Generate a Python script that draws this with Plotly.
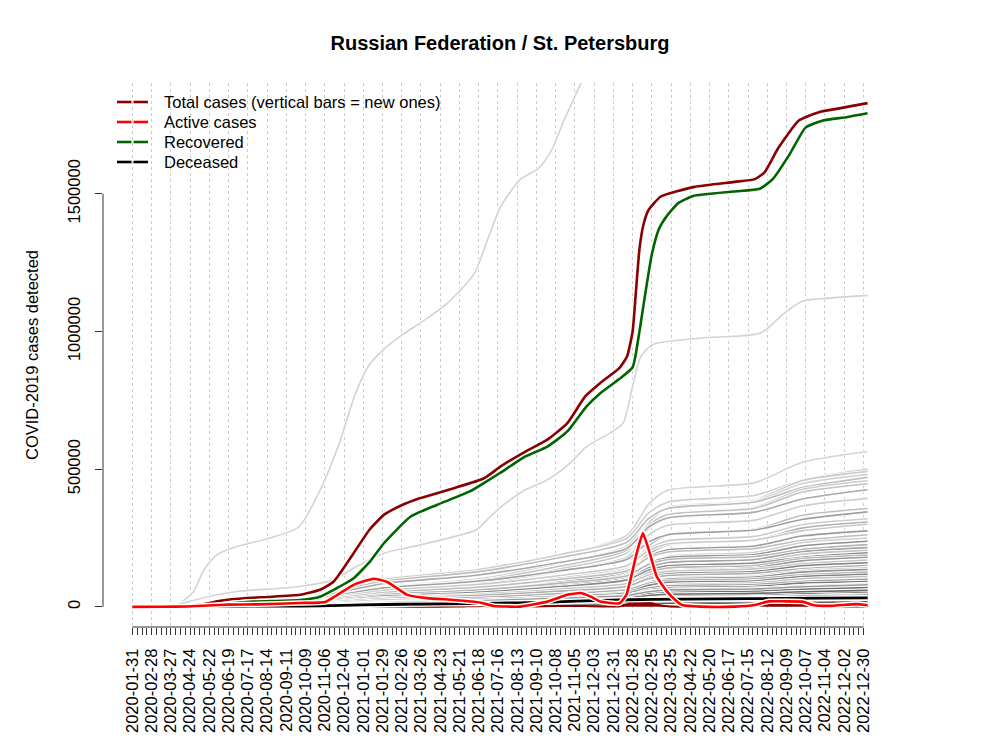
import plotly.graph_objects as go
import pandas as pd

# ---------------- data ----------------
total_dates = ["2020-01-31","2020-03-15","2020-04-15","2020-05-10","2020-06-07","2020-07-15","2020-08-15",
               "2020-10-01","2020-10-30","2020-11-19","2020-12-18","2021-01-10","2021-01-31","2021-02-25",
               "2021-03-25","2021-05-13","2021-06-26","2021-07-20","2021-08-25","2021-09-26","2021-10-25",
               "2021-11-20","2021-12-12","2022-01-09","2022-01-20","2022-01-28","2022-02-02","2022-02-07",
               "2022-02-13","2022-02-20","2022-03-10","2022-04-28","2022-06-25","2022-07-25","2022-08-08",
               "2022-08-28","2022-09-27","2022-10-27","2022-11-25","2022-12-14","2023-01-05"]
total_vals = [0,100,2000,8000,21800,32000,36000,43600,62000,92000,195000,280000,334000,368000,395000,
              431000,467000,510000,564000,607000,667000,764000,813000,868000,910000,1000000,1150000,
              1300000,1390000,1440000,1490000,1525000,1543000,1553000,1578000,1666000,1766000,1797000,
              1810000,1819000,1829000]

rec_dates = ["2020-01-31","2020-04-15","2020-05-20","2020-06-16","2020-07-25","2020-10-01","2020-10-30",
             "2020-11-19","2020-12-18","2021-01-11","2021-01-31","2021-03-11","2021-04-18","2021-06-05",
             "2021-06-29","2021-07-19","2021-08-25","2021-09-26","2021-10-25","2021-11-22","2021-12-12",
             "2022-01-09","2022-01-28","2022-02-06","2022-02-15","2022-02-25","2022-03-07","2022-03-19",
             "2022-04-04","2022-04-26","2022-06-24","2022-08-01","2022-08-20","2022-09-13","2022-10-07",
             "2022-11-01","2022-12-05","2023-01-05"]
rec_vals = [0,200,2000,11000,19000,25000,37000,62000,104000,165000,231000,328000,370000,419000,455000,
            486000,546000,582000,637000,728000,776000,828000,870000,985000,1130000,1280000,1370000,
            1420000,1465000,1492000,1508000,1518000,1553000,1641000,1741000,1766000,1778000,1792000]

act_dates = ["2020-01-31","2020-03-15","2020-04-20","2020-05-20","2020-06-20","2020-08-01","2020-10-01",
             "2020-11-07","2020-12-18","2021-01-16","2021-02-05","2021-03-06","2021-04-04","2021-05-13",
             "2021-06-20","2021-07-10","2021-08-18","2021-09-26","2021-10-25","2021-11-13","2021-11-28",
             "2021-12-12","2022-01-09","2022-01-19","2022-02-03","2022-02-12","2022-02-22","2022-03-04",
             "2022-03-19","2022-03-31","2022-04-10","2022-05-07","2022-06-26","2022-07-25","2022-08-14",
             "2022-09-08","2022-10-02","2022-10-17","2022-11-11","2022-12-20","2023-01-05"]
act_vals = [0,100,1500,5000,8000,9000,14000,18000,80000,102000,90000,43600,31600,25000,15600,3000,
            1000,19000,44000,50000,37000,19000,13000,44000,195000,268000,195000,110000,56000,25000,
            7000,1000,1000,7000,20000,20000,19000,7000,3600,10000,6000]

dec_dates = ["2020-01-31","2020-04-15","2020-06-01","2020-08-01","2020-10-01","2020-12-01","2021-01-01",
             "2021-03-01","2021-07-01","2021-10-01","2021-12-15","2022-03-01","2022-06-01","2022-09-01",
             "2023-01-05"]
dec_vals = [0,100,1500,2500,3000,5000,7000,9500,12500,17500,23500,27500,29000,30500,32500]

new_dates = ["2020-01-31","2020-03-31","2020-05-15","2020-06-15","2020-08-15","2020-10-01","2020-11-01",
             "2020-12-01","2020-12-25","2021-01-20","2021-02-20","2021-04-01","2021-05-15","2021-06-25",
             "2021-07-15","2021-08-15","2021-09-20","2021-10-25","2021-11-20","2021-12-20","2022-01-10",
             "2022-01-25","2022-02-07","2022-02-20","2022-03-05","2022-03-20","2022-04-15","2022-06-15",
             "2022-07-15","2022-08-10","2022-08-28","2022-09-12","2022-09-28","2022-10-12","2022-11-01",
             "2022-12-01","2022-12-25","2023-01-05"]
new_vals = [0,100,700,400,250,400,1200,3700,3800,2500,1000,800,900,3500,2000,1300,2200,3500,3000,1200,
            2500,13000,21000,17000,8000,2500,700,300,1500,10000,16000,17000,12000,4000,800,600,1200,900]

msk_dates = ["2020-03-05","2020-03-20","2020-04-10","2020-04-29","2020-05-14","2020-06-02","2020-07-01",
             "2020-08-18","2020-09-29","2020-10-30","2020-11-28","2020-12-20","2021-01-10","2021-01-31",
             "2021-02-24","2021-03-30","2021-05-03","2021-06-11","2021-06-30","2021-07-20","2021-08-18",
             "2021-09-12","2021-10-01","2021-10-20","2021-11-05","2021-11-17","2022-01-15","2022-03-01",
             "2022-08-01","2023-01-05"]
msk_vals = [0,100,15000,56000,134000,189000,219000,250000,290000,423000,600000,770000,880000,935000,
            983000,1039000,1102000,1208000,1327000,1453000,1553000,1590000,1653000,1766000,1853000,
            1916000,2100000,2650000,2800000,3300000]

mo_dates = ["2020-03-20","2020-04-05","2020-05-01","2020-06-02","2020-07-01","2020-10-01","2020-11-19",
            "2020-12-18","2021-01-31","2021-03-25","2021-05-13","2021-06-15","2021-06-30","2021-07-20",
            "2021-08-25","2021-09-26","2021-10-29","2021-11-22","2021-12-26","2022-01-14","2022-01-28",
            "2022-02-09","2022-02-26","2022-05-07","2022-08-02","2022-09-06","2022-10-02","2022-11-15",
            "2023-01-05"]
mo_vals = [0,8000,25000,44000,56000,74000,98000,141000,195000,225000,255000,280000,316000,362000,
           425000,461000,522000,582000,631000,667000,800000,909000,952000,976000,994000,1067000,
           1110000,1122000,1131000]

# other regions (values in thousands at the key dates)
reg_dates = ["2020-03-15","2020-06-01","2020-10-01","2020-12-01","2021-02-01","2021-06-15","2021-10-15",
             "2022-01-20","2022-02-20","2022-03-20","2022-07-25","2022-10-01","2023-01-05"]
reg_vals_thousands = [
    [0, 6, 23, 51, 85, 118, 186, 260, 372, 423, 451, 524, 564],
    [0, 10, 30, 65, 100, 135, 190, 250, 340, 380, 405, 460, 500],
    [0, 2, 15, 34, 59, 84, 138, 197, 305, 359, 389, 458, 492],
    [0, 5, 19, 43, 72, 101, 159, 221, 317, 361, 385, 447, 481],
    [0, 9, 28, 61, 94, 127, 179, 235, 320, 357, 381, 432, 470],
    [0, 2, 14, 32, 55, 78, 128, 183, 284, 334, 362, 426, 458],
    [0, 4, 18, 40, 67, 94, 148, 206, 295, 335, 358, 416, 447],
    [0, 8, 26, 55, 85, 115, 162, 213, 289, 323, 344, 391, 425],
    [0, 4, 16, 35, 59, 83, 130, 181, 260, 296, 315, 366, 394],
    [0, 2, 11, 25, 43, 61, 100, 143, 221, 261, 282, 332, 357],
    [0, 7, 21, 45, 69, 93, 131, 173, 235, 262, 279, 317, 345],
    [0, 3, 13, 29, 48, 67, 106, 147, 211, 240, 256, 298, 320],
    [0, 2, 9, 22, 37, 52, 86, 123, 191, 225, 243, 286, 308],
    [0, 6, 18, 39, 60, 81, 114, 150, 204, 228, 243, 276, 300],
    [0, 3, 11, 25, 41, 58, 91, 127, 182, 207, 221, 257, 276],
    [0, 5, 16, 34, 52, 71, 100, 131, 178, 199, 212, 241, 262],
    [0, 1, 8, 18, 30, 43, 70, 100, 155, 183, 198, 233, 250],
    [0, 2, 10, 21, 36, 50, 79, 109, 157, 179, 190, 221, 238],
    [0, 5, 14, 29, 45, 61, 86, 113, 154, 172, 183, 208, 226],
    [0, 2, 9, 19, 32, 45, 71, 99, 142, 161, 172, 200, 215],
    [0, 1, 6, 14, 25, 35, 57, 82, 127, 150, 162, 191, 205],
    [0, 4, 12, 25, 39, 53, 74, 98, 133, 149, 159, 180, 196],
    [0, 2, 8, 17, 28, 39, 62, 86, 124, 141, 150, 175, 188],
    [0, 1, 5, 13, 22, 31, 50, 72, 112, 131, 142, 167, 180],
    [0, 3, 10, 22, 34, 46, 65, 85, 116, 129, 138, 156, 170],
    [0, 2, 6, 14, 24, 34, 53, 74, 106, 120, 128, 149, 160],
    [0, 3, 9, 20, 30, 41, 57, 75, 102, 114, 122, 138, 150],
    [0, 1, 4, 10, 17, 24, 40, 57, 88, 104, 112, 132, 142],
    [0, 1, 5, 12, 20, 28, 45, 62, 89, 101, 108, 126, 135],
    [0, 3, 8, 16, 25, 34, 48, 63, 86, 96, 102, 116, 126],
    [0, 1, 5, 11, 18, 25, 39, 54, 78, 89, 94, 110, 118],
    [0, 1, 3, 8, 13, 19, 31, 44, 68, 80, 87, 102, 110],
    [0, 2, 6, 13, 20, 27, 38, 50, 68, 76, 81, 92, 100],
    [0, 1, 4, 8, 14, 19, 30, 42, 61, 69, 74, 86, 92],
    [0, 2, 5, 11, 17, 23, 32, 42, 57, 64, 68, 77, 84],
    [0, 0, 2, 5, 9, 13, 21, 30, 47, 55, 59, 70, 75],
    [0, 1, 3, 6, 10, 14, 22, 30, 44, 50, 53, 61, 66],
    [0, 1, 3, 8, 12, 16, 22, 29, 39, 44, 47, 53, 58],
    [0, 1, 2, 5, 8, 11, 17, 23, 33, 38, 40, 47, 50],
    [0, 0, 1, 3, 5, 7, 12, 17, 26, 31, 33, 39, 42],
    [0, 1, 2, 4, 7, 9, 13, 17, 23, 26, 28, 31, 34],
    [0, 0, 1, 2, 4, 5, 9, 12, 17, 20, 21, 24, 26],
    [0, 1, 4, 9, 15, 20, 28, 36, 48, 54, 57, 64, 70],
    [0, 1, 3, 7, 12, 16, 22, 28, 37, 41, 44, 49, 54],
    [0, 0, 2, 5, 9, 12, 17, 22, 30, 34, 36, 41, 45],
    [0, 1, 3, 6, 10, 13, 18, 23, 30, 33, 35, 39, 42],
    [0, 0, 2, 4, 7, 10, 14, 18, 25, 28, 30, 34, 37],
    [0, 0, 1, 3, 6, 8, 11, 15, 21, 24, 25, 28, 31],
    [0, 1, 3, 8, 14, 18, 24, 31, 41, 46, 49, 55, 60],
    [0, 1, 4, 10, 17, 23, 33, 43, 57, 63, 67, 75, 82],
    [0, 1, 4, 9, 16, 22, 31, 41, 55, 61, 65, 73, 80],
    [0, 0, 1, 2, 3, 4, 6, 8, 11, 13, 14, 16, 18],
]
reg_colors = ["#d4d4d4","#cfcfcf","#c8c8c8","#d4d4d4","#bdbdbd","#cccccc","#c2c2c2","#a9a9a9","#cfcfcf",
              "#bebebe","#a0a0a0","#cdcdcd","#b0b0b0","#c9c9c9","#9a9a9a","#bcbcbc","#d0d0d0","#8f8f8f",
              "#b5b5b5","#a4a4a4","#c6c6c6",
              "#8a8a8a","#b8b8b8","#999999","#c4c4c4","#7f7f7f","#adadad","#cfcfcf","#939393","#b2b2b2",
              "#858585","#c0c0c0","#a0a0a0","#7a7a7a","#bababa","#8c8c8c","#a8a8a8","#c8c8c8","#808080",
              "#9e9e9e","#b6b6b6","#8a8a8a",
              "#6e6e6e","#5f5f5f","#777777","#666666","#707070","#5a5a5a","#696969","#757575","#9a9a9a",
              "#606060"]

tick_labels = ["2020-01-31","2020-02-28","2020-03-27","2020-04-24","2020-05-22","2020-06-19","2020-07-17",
               "2020-08-14","2020-09-11","2020-10-09","2020-11-06","2020-12-04","2021-01-01","2021-01-29",
               "2021-02-26","2021-03-26","2021-04-23","2021-05-21","2021-06-18","2021-07-16","2021-08-13",
               "2021-09-10","2021-10-08","2021-11-05","2021-12-03","2021-12-31","2022-01-28","2022-02-25",
               "2022-03-25","2022-04-22","2022-05-20","2022-06-17","2022-07-15","2022-08-12","2022-09-09",
               "2022-10-07","2022-11-04","2022-12-02","2022-12-30"]
y_ticks = [0, 500000, 1000000, 1500000]

title_text = "Russian Federation / St. Petersburg"
ytitle_text = "COVID-2019 cases detected"
legend_labels = ["Total cases (vertical bars = new ones)", "Active cases", "Recovered", "Deceased"]
legend_colors = ["#8B0000", "#FF0000", "#006400", "#000000"]

# ---------------- figure ----------------
FONT = "Liberation Sans, Arial, Helvetica, sans-serif"
fig = go.Figure()

def halo_line(x, y, color, w, hw, smooth=0.7):
    shape = dict(shape="spline", smoothing=smooth) if smooth else dict(shape="linear")
    fig.add_trace(go.Scatter(x=x, y=y, mode="lines", line=dict(color="white", width=hw, **shape),
                             hoverinfo="skip", showlegend=False))
    fig.add_trace(go.Scatter(x=x, y=y, mode="lines", line=dict(color=color, width=w, **shape),
                             showlegend=False))

# background regions: each grey line with a white halo
halo_line(msk_dates, msk_vals, "#d3d3d3", 1.6, 3.5)
halo_line(mo_dates, mo_vals, "#d3d3d3", 1.6, 3.5)
for vals, col in zip(reg_vals_thousands, reg_colors):
    halo_line(reg_dates, [v * 1000 for v in vals], col, 1.6, 3.2)

# new cases (vertical bars at the bottom)
fig.add_trace(go.Scatter(x=new_dates, y=new_vals, mode="lines", fill="tozeroy",
                         line=dict(color="#8B0000", width=2, shape="spline", smoothing=0.6),
                         fillcolor="#8B0000", showlegend=False))

# main series
halo_line(dec_dates, dec_vals, "#000000", 2.8, 5.5)
halo_line(total_dates, total_vals, "#8B0000", 2.6, 5.0, 0.5)
halo_line(rec_dates, rec_vals, "#006400", 2.6, 5.0, 0.5)
halo_line(act_dates, act_vals, "#FF0000", 2.6, 5.5, 0.4)

# axes ranges (R style 4% padding)
d0 = pd.Timestamp(total_dates[0])
d1 = pd.Timestamp(total_dates[-1])
pad = (d1 - d0) * 0.04
ymax = max(total_vals)
week_ticks = [d.strftime("%Y-%m-%d") for d in pd.date_range(tick_labels[0], tick_labels[-1], freq="7D")]

fig.update_layout(
    width=1000, height=750,
    margin=dict(l=103, r=103, t=83, b=123),
    plot_bgcolor="white", paper_bgcolor="white",
    showlegend=False,
    font=dict(family=FONT, size=16.5, color="black"),
    title=dict(text="<b>" + title_text + "</b>", x=0.5, xanchor="center",
               y=1 - 43 / 750, yanchor="middle", font=dict(size=20, family=FONT, color="black")),
    xaxis=dict(type="date", range=[d0 - pad, d1 + pad],
               tickmode="array", tickvals=tick_labels, ticktext=tick_labels,
               tickangle=-90, ticks="outside", ticklen=7, tickwidth=1, tickcolor="#333333",
               showgrid=True, gridcolor="#cccccc", griddash="dot", gridwidth=1,
               showline=False, zeroline=False, ticklabelstandoff=7,
               minor=dict(tickmode="array", tickvals=week_ticks, ticks="outside", ticklen=7,
                          tickwidth=1, tickcolor="#333333", showgrid=False)),
    yaxis=dict(range=[-0.04 * ymax, 1.04 * ymax], tickmode="array", tickvals=y_ticks,
               ticktext=[str(v) for v in y_ticks], tickangle=-90, ticks="outside", ticklen=7,
               tickwidth=1, tickcolor="#333333", showgrid=False, zeroline=False, showline=False,
               ticklabelstandoff=8),
)

# R-style axis lines spanning only the tick range
fig.add_shape(type="line", xref="paper", x0=0, x1=0, yref="y", y0=y_ticks[0], y1=y_ticks[-1],
              line=dict(color="#333333", width=1))
fig.add_shape(type="line", xref="x", x0=tick_labels[0], x1=week_ticks[-1], yref="paper", y0=0, y1=0,
              line=dict(color="#333333", width=1))

# y-axis title
fig.add_annotation(text=ytitle_text, xref="paper", yref="paper", x=(32 - 103) / 794, y=0.5,
                   textangle=-90, showarrow=False, xanchor="center", yanchor="middle",
                   font=dict(size=16.5, family=FONT, color="black"))

# legend (R style, no box)
for i, (lab, col) in enumerate(zip(legend_labels, legend_colors)):
    py = 102 + 20 * i
    yp = (627 - py) / 544
    for xa, xb in [(117, 131.5), (133.5, 148)]:
        fig.add_shape(type="line", xref="paper", yref="paper", x0=(xa - 103) / 794, x1=(xb - 103) / 794,
                      y0=yp, y1=yp, line=dict(color=col, width=2.6))
    fig.add_annotation(text=lab, xref="paper", yref="paper", x=(162 - 103) / 794, y=yp,
                       xanchor="left", yanchor="middle", showarrow=False,
                       font=dict(size=16.5, family=FONT, color="black"))

fig.write_html("out.html", config={"displayModeBar": False},
               post_script="document.body.style.margin='0';")
